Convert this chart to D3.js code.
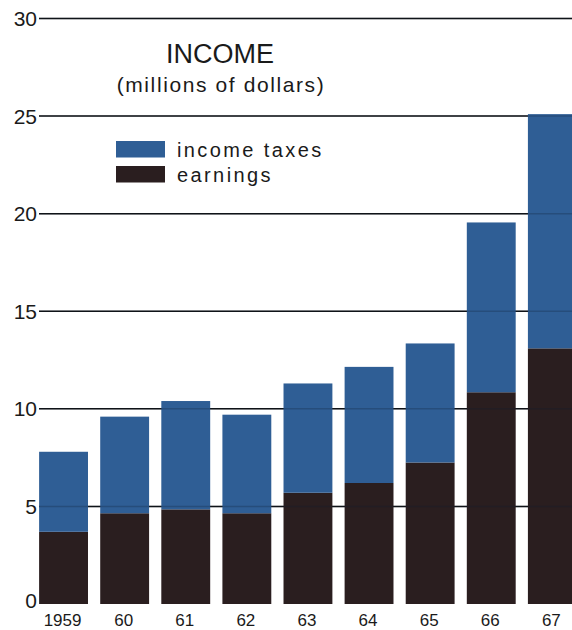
<!DOCTYPE html>
<html>
<head>
<meta charset="utf-8">
<script src="https://cdn.jsdelivr.net/npm/d3@7/dist/d3.min.js"></script>
<style>
  html, body { margin: 0; padding: 0; background: #ffffff; }
  svg { display: block; font-family: "Liberation Sans", Arial, Helvetica, sans-serif; }
</style>
</head>
<body>
<script>
// Income by year, in millions of dollars
const years = ["1959", "60", "61", "62", "63", "64", "65", "66", "67"];
const earnings = [3.7, 4.65, 4.85, 4.65, 5.7, 6.2, 7.25, 10.85, 13.1];
const totalIncome = [7.8, 9.6, 10.4, 9.7, 11.3, 12.15, 13.35, 19.55, 25.1];
const incomeTaxes = totalIncome.map((t, i) => +(t - earnings[i]).toFixed(2));
const yTicks = [0, 5, 10, 15, 20, 25, 30];
const seriesNames = ["income taxes", "earnings"];
const seriesColors = ["#2f5e95", "#2a1e1f"];

const W = 572, H = 630;
const svg = d3.select("body").append("svg").attr("width", W).attr("height", H);

const x = d3.scaleBand().domain(years).range([33, 33 + 9 * 61.1])
  .paddingInner(0.2).paddingOuter(0.1);
const y = d3.scaleLinear().domain([0, 30]).range([604, 18.5]);

// horizontal rules (no rule at zero)
const gridTicks = yTicks.filter(v => v > 0);
svg.append("g").selectAll("line").data(gridTicks).join("line")
  .attr("x1", 39).attr("x2", W)
  .attr("y1", d => y(d)).attr("y2", d => y(d))
  .attr("stroke", "#111").attr("stroke-width", 1.5);

// y labels
svg.append("g").selectAll("text").data(yTicks).join("text")
  .attr("x", 37)
  .attr("y", d => d === 0 ? y(d) - 4 : y(d))
  .attr("text-anchor", "end")
  .attr("dominant-baseline", "central")
  .attr("font-size", 21)
  .attr("fill", "#1a1a1a")
  .text(d => d);

// stacked bars
const rows = years.map((yr, i) => ({ year: yr, earnings: earnings[i], taxes: incomeTaxes[i] }));
const stack = d3.stack().keys(["earnings", "taxes"])(rows);
const colorOf = { earnings: seriesColors[1], taxes: seriesColors[0] };

svg.append("g").selectAll("g").data(stack).join("g")
  .attr("fill", d => colorOf[d.key])
  .selectAll("rect").data(d => d).join("rect")
  .attr("x", d => x(d.data.year))
  .attr("width", x.bandwidth())
  .attr("y", d => y(d[1]))
  .attr("height", d => y(d[0]) - y(d[1]));

// rules faintly showing through the bars
svg.append("g").selectAll("line").data(gridTicks).join("line")
  .attr("x1", 39).attr("x2", W)
  .attr("y1", d => y(d)).attr("y2", d => y(d))
  .attr("stroke", "#0a1a30").attr("stroke-opacity", 0.25).attr("stroke-width", 1.5);

// x labels
svg.append("g").selectAll("text").data(years).join("text")
  .attr("x", d => x(d) + x.bandwidth() / 2 - 1)
  .attr("y", 626)
  .attr("text-anchor", "middle")
  .attr("font-size", 17)
  .attr("fill", "#1a1a1a")
  .text(d => d);

// title
svg.append("text")
  .attr("x", 220).attr("y", 63)
  .attr("text-anchor", "middle")
  .attr("font-size", 27)
  .attr("fill", "#1a1a1a")
  .text("INCOME");
svg.append("text")
  .attr("x", 221).attr("y", 92)
  .attr("text-anchor", "middle")
  .attr("font-size", 21)
  .attr("letter-spacing", 1.6)
  .attr("fill", "#1a1a1a")
  .text("(millions of dollars)");

// legend
const legend = svg.append("g");
const legendRows = legend.selectAll("g").data(seriesNames).join("g")
  .attr("transform", (d, i) => `translate(116, ${141 + i * 25})`);
legendRows.append("rect")
  .attr("width", 49).attr("height", 16.5)
  .attr("fill", (d, i) => seriesColors[i]);
legendRows.append("text")
  .attr("x", 61).attr("y", 16)
  .attr("font-size", 20)
  .attr("letter-spacing", 2.4)
  .attr("fill", "#1a1a1a")
  .text(d => d);
</script>
</body>
</html>
